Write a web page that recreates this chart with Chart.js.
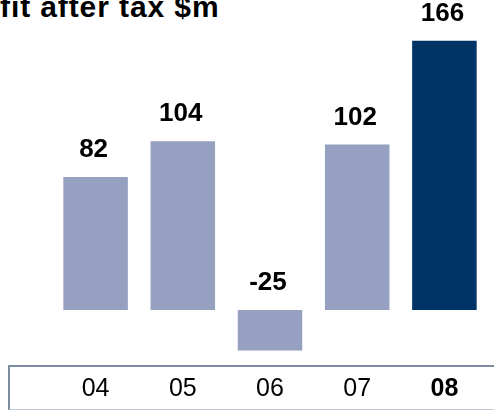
<!DOCTYPE html>
<html>
<head>
<meta charset="utf-8">
<script src="https://cdn.jsdelivr.net/npm/chart.js@4/dist/chart.umd.min.js"></script>
<style>
  html, body { margin: 0; padding: 0; background: #fff; overflow: hidden; }
  #wrap { position: relative; width: 494px; height: 410px; }
  #title {
    position: absolute; left: 0; top: -8px;
    font: bold 30px "Liberation Sans", Arial, sans-serif;
    line-height: 30px; letter-spacing: 0.9px; color: #000; white-space: nowrap;
  }
  #axisBox {
    position: absolute; left: 8px; top: 365px; width: 500px; height: 42px;
    border-top: 2px solid #7a8ca1; border-left: 2px solid #7a8ca1;
    border-bottom: 1px solid #c3cbd6;
  }
  canvas { position: absolute; left: 0; top: 0; }
</style>
</head>
<body>
<div id="wrap">
  <div id="axisBox"></div>
  <div id="title">fit after tax $m</div>
  <canvas id="profitChart" width="494" height="410"></canvas>
</div>
<script>
// Profit after tax, $m
const years = ['04', '05', '06', '07', '08'];
const profit = [82, 104, -25, 102, 166];
const barColors = ['#96a0c1', '#96a0c1', '#96a0c1', '#96a0c1', '#003366'];

// draws the value above each bar (or above the baseline for negatives)
const valueLabels = {
  id: 'valueLabels',
  afterDatasetsDraw(chart) {
    const ctx = chart.ctx;
    const meta = chart.getDatasetMeta(0);
    ctx.save();
    ctx.font = 'bold 26px "Liberation Sans", Arial, sans-serif';
    ctx.fillStyle = '#000';
    ctx.textAlign = 'center';
    ctx.textBaseline = 'alphabetic';
    meta.data.forEach((bar, i) => {
      const top = Math.min(bar.y, bar.base);
      ctx.fillText(String(profit[i]), bar.x - 2, top - 20);
    });
    ctx.restore();
  }
};

const ctx = document.getElementById('profitChart').getContext('2d');
new Chart(ctx, {
  type: 'bar',
  data: {
    labels: years,
    datasets: [{
      data: profit,
      backgroundColor: barColors,
      borderWidth: 0,
      barPercentage: 1,
      categoryPercentage: 0.74
    }]
  },
  options: {
    responsive: false,
    animation: false,
    layout: { padding: { left: 52, right: 6, top: 18, bottom: 7 } },
    plugins: {
      legend: { display: false },
      tooltip: { enabled: false },
      title: { display: false }
    },
    scales: {
      x: {
        grid: { display: false, drawTicks: false },
        border: { display: false },
        afterFit(scale) { scale.height = 42.8; },
        ticks: {
          color: '#000',
          padding: 14,
          font: (c) => ({
            family: '"Liberation Sans", Arial, sans-serif',
            size: 25,
            weight: c.index === 4 ? 'bold' : 'normal'
          })
        }
      },
      y: {
        display: false,
        min: -31,
        max: 180
      }
    }
  },
  plugins: [valueLabels]
});
</script>
</body>
</html>
